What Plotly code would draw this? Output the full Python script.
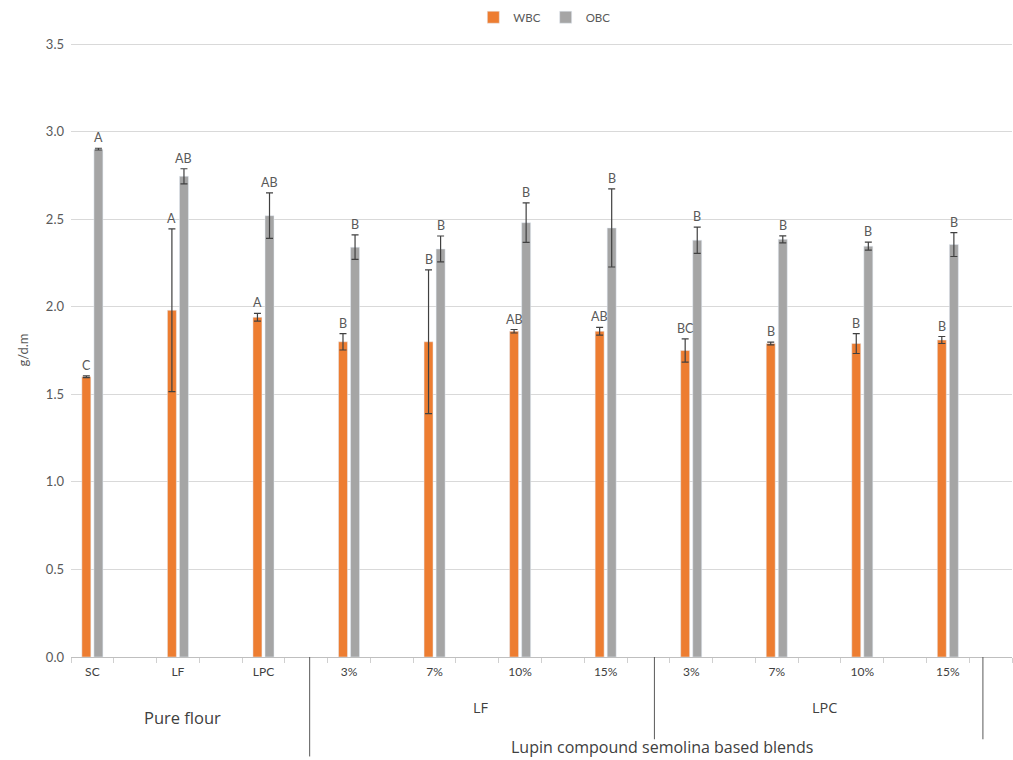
import plotly.graph_objects as go

# ---- data ----
categories = ["SC", "LF", "LPC", "3%", "7%", "10%", "15%", "3%", "7%", "10%", "15%"]
wbc = [1.60, 1.98, 1.94, 1.80, 1.80, 1.86, 1.86, 1.75, 1.79, 1.79, 1.81]
wbc_err = [0.005, 0.465, 0.022, 0.047, 0.41, 0.01, 0.022, 0.066, 0.008, 0.057, 0.02]
obc = [2.90, 2.745, 2.52, 2.34, 2.33, 2.48, 2.45, 2.38, 2.385, 2.346, 2.355]
obc_err = [0.005, 0.043, 0.13, 0.07, 0.074, 0.113, 0.223, 0.075, 0.02, 0.023, 0.068]
wbc_letters = ["C", "A", "A", "B", "B", "AB", "AB", "BC", "B", "B", "B"]
obc_letters = ["A", "AB", "AB", "B", "B", "B", "B", "B", "B", "B", "B"]
group_labels = ["Pure flour", "LF", "LPC"]
super_label = "Lupin compound semolina based blends"

ORANGE = "#ED7D31"
GRAY = "#A5A5A5"
TXT = "#595959"
FONT = "Lato"
FONT2 = "Open Sans"

xs = list(range(len(categories)))
BW = 0.105
GAP = 0.018

fig = go.Figure()
fig.add_trace(go.Bar(
    x=xs, y=wbc, name="WBC", marker_color=ORANGE, width=BW, offset=-GAP - BW,
    error_y=dict(type="data", array=wbc_err, visible=True, color="#404040", thickness=1.2, width=3.5),
))
fig.add_trace(go.Bar(
    x=xs, y=obc, name="OBC", marker_color=GRAY, width=BW, offset=GAP,
    error_y=dict(type="data", array=obc_err, visible=True, color="#404040", thickness=1.2, width=3.5),
))

annotations = []
oc = -(GAP + BW / 2)
gc = GAP + BW / 2
for i in xs:
    annotations.append(dict(x=i + oc, y=wbc[i] + wbc_err[i], text=wbc_letters[i], showarrow=False,
                            yanchor="bottom", yshift=1, font=dict(size=12.5, color=TXT, family=FONT)))
    annotations.append(dict(x=i + gc, y=obc[i] + obc_err[i], text=obc_letters[i], showarrow=False,
                            yanchor="bottom", yshift=1, font=dict(size=12.5, color=TXT, family=FONT)))

# group labels (below axis)
annotations += [
    dict(x=1.05, y=-0.098, xref="x", yref="paper", text=group_labels[0], showarrow=False,
         xanchor="center", yanchor="middle", font=dict(size=16.5, color="#404040", family=FONT2)),
    dict(x=4.54, y=-0.0816, xref="x", yref="paper", text=group_labels[1], showarrow=False,
         xanchor="center", yanchor="middle", font=dict(size=14.5, color="#404040", family=FONT2)),
    dict(x=8.56, y=-0.083, xref="x", yref="paper", text=group_labels[2], showarrow=False,
         xanchor="center", yanchor="middle", font=dict(size=14.5, color="#404040", family=FONT2)),
    dict(x=6.655, y=-0.146, xref="x", yref="paper", text=super_label, showarrow=False,
         xanchor="center", yanchor="middle", font=dict(size=16, color="#404040", family=FONT2)),
]

shapes = [
    dict(type="line", xref="x", yref="paper", x0=2.54, x1=2.54, y0=0, y1=-0.162,
         line=dict(color="#595959", width=1)),
    dict(type="line", xref="x", yref="paper", x0=6.57, x1=6.57, y0=0, y1=-0.134,
         line=dict(color="#595959", width=1)),
    dict(type="line", xref="x", yref="paper", x0=10.41, x1=10.41, y0=0, y1=-0.134,
         line=dict(color="#595959", width=1)),
]

fig.update_layout(
    width=1013, height=760,
    margin=dict(l=71, r=1, t=43, b=103, autoexpand=False),
    plot_bgcolor="white", paper_bgcolor="white",
    barmode="group",
    font=dict(family=FONT, color=TXT),
    showlegend=True,
    legend=dict(orientation="h", x=0.503, xanchor="center", y=1.042, yanchor="middle",
                font=dict(size=11.5, color=TXT, family=FONT), itemwidth=30, bgcolor="rgba(0,0,0,0)"),
    annotations=annotations,
    shapes=shapes,
    xaxis=dict(
        range=[-0.25, 10.75], tickmode="array", tickvals=xs, ticktext=categories,
        ticks="", showgrid=False, zeroline=False, automargin=False,
        showline=True, linecolor="#BFBFBF", linewidth=1,
        tickfont=dict(size=12, color="#404040", family=FONT),
        ticklabelstandoff=4,
        minor=dict(tick0=-0.25, dtick=0.5, ticks="outside", ticklen=5, tickcolor="#D0D0D0", showgrid=False),
    ),
    yaxis=dict(
        range=[0, 3.506], tickmode="array", tickvals=[0, 0.5, 1, 1.5, 2, 2.5, 3, 3.5],
        ticktext=["0.0", "0.5", "1.0", "1.5", "2.0", "2.5", "3.0", "3.5"],
        showgrid=True, gridcolor="#D9D9D9", gridwidth=1, zeroline=False, automargin=False,
        ticks="", tickfont=dict(size=13, color=TXT, family=FONT), ticklabelstandoff=6,
        title=dict(text="g/d.m", font=dict(size=13, color=TXT, family=FONT), standoff=14),
    ),
)

fig.write_html("out.html", config={"displayModeBar": False},
               post_script="document.body.style.margin='0';document.body.style.overflow='hidden';")
